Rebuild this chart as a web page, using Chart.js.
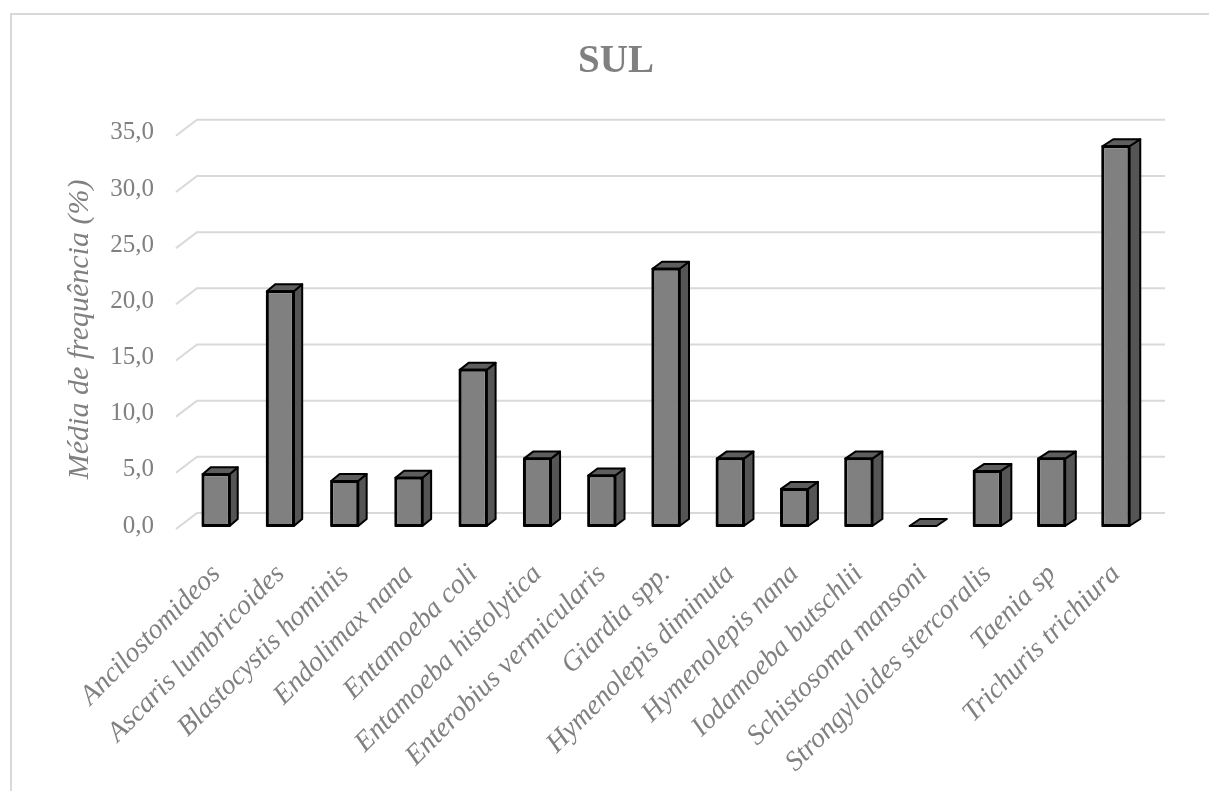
<!DOCTYPE html>
<html lang="pt">
<head>
<meta charset="utf-8">
<title>SUL</title>
<script src="https://cdn.jsdelivr.net/npm/chart.js@4.4.1/dist/chart.umd.min.js"></script>
<style>
  html, body { margin: 0; padding: 0; background: #ffffff; }
  #wrap { width: 1209px; height: 791px; position: relative; overflow: hidden; }
  canvas { display: block; }
</style>
</head>
<body>
<div id="wrap"><canvas id="grafico" width="1209" height="791"></canvas></div>
<script>
// Parasitas (eixo das categorias)
const parasitas = [
  'Ancilostomideos',
  'Ascaris lumbricoides',
  'Blastocystis hominis',
  'Endolimax nana',
  'Entamoeba coli',
  'Entamoeba histolytica',
  'Enterobius vermicularis',
  'Giardia spp.',
  'Hymenolepis diminuta',
  'Hymenolepis nana',
  'Iodamoeba butschlii',
  'Schistosoma mansoni',
  'Strongyloides stercoralis',
  'Taenia sp',
  'Trichuris trichiura'
];

// Média de frequência (%) na região Sul
const mediaFrequencia = [4.6, 20.9, 4.0, 4.3, 13.9, 6.0, 4.5, 22.9, 6.0, 3.3, 6.0, 0.0, 4.9, 6.0, 33.8];

// Eixo vertical: 0,0 a 35,0 de 5 em 5
const eixoMin = 0;
const eixoMax = 35;
const eixoPasso = 5;

const tituloGrafico = 'SUL';
const tituloEixoY = 'Média de frequência (%)';

const FONTE = '"Liberation Serif", "Times New Roman", Times, serif';
const CINZA_TEXTO = '#808080';

// Moldura clara em volta do gráfico
const moldura = {
  id: 'moldura',
  beforeDraw(chart) {
    const ctx = chart.ctx;
    ctx.save();
    ctx.fillStyle = '#ffffff';
    ctx.fillRect(0, 0, chart.width, chart.height);
    ctx.strokeStyle = '#d9d9d9';
    ctx.lineWidth = 2;
    ctx.beginPath();
    ctx.moveTo(11, chart.height + 5);
    ctx.lineTo(11, 14);
    ctx.lineTo(chart.width + 5, 14);
    ctx.stroke();
    ctx.restore();
  }
};

// Linhas de grade na parede do fundo, com o chanfro do piso à esquerda
const paredeFundo = {
  id: 'paredeFundo',
  beforeDatasetsDraw(chart) {
    const ctx = chart.ctx;
    const y = chart.scales.y;
    const area = chart.chartArea;
    ctx.save();
    ctx.strokeStyle = '#d9d9d9';
    ctx.lineWidth = 2;
    for (let v = eixoMin; v <= eixoMax; v += eixoPasso) {
      const py = y.getPixelForValue(v);
      ctx.beginPath();
      ctx.moveTo(area.left - 8, py + 3);
      ctx.lineTo(area.left + 13, py - 13);
      ctx.lineTo(area.right + 17, py - 13);
      ctx.stroke();
    }
    ctx.restore();
  }
};

// Faces lateral e superior das colunas, a partir da geometria de cada barra
const colunas3d = {
  id: 'colunas3d',
  afterDatasetsDraw(chart) {
    const ctx = chart.ctx;
    const area = chart.chartArea;
    const meta = chart.getDatasetMeta(0);
    ctx.save();
    ctx.lineJoin = 'round';
    ctx.lineWidth = 2;
    ctx.strokeStyle = '#000000';
    meta.data.forEach((bar) => {
      const p = bar.getProps(['x', 'y', 'base', 'width'], true);
      const esq = p.x - p.width / 2;
      const dir = p.x + p.width / 2;
      const topo = Math.min(p.y, p.base);
      const base = Math.max(p.y, p.base);
      const dx = 8 + 3 * (p.x - area.left) / (area.right - area.left);
      const dy = 7;

      // face lateral
      if (base - topo > 0.5) {
        ctx.beginPath();
        ctx.moveTo(dir, topo);
        ctx.lineTo(dir + dx, topo - dy);
        ctx.lineTo(dir + dx, base - dy);
        ctx.lineTo(dir, base);
        ctx.closePath();
        ctx.fillStyle = '#555555';
        ctx.fill();
        ctx.stroke();
      }

      // face superior
      ctx.beginPath();
      ctx.moveTo(esq, topo);
      ctx.lineTo(esq + dx, topo - dy);
      ctx.lineTo(dir + dx, topo - dy);
      ctx.lineTo(dir, topo);
      ctx.closePath();
      ctx.fillStyle = '#5e5e5e';
      ctx.fill();
      ctx.stroke();

      // contorno da face frontal
      if (base - topo > 0.5) {
        ctx.strokeRect(esq, topo, dir - esq, base - topo);
      }
    });
    ctx.restore();
  }
};

new Chart(document.getElementById('grafico'), {
  type: 'bar',
  data: {
    labels: parasitas,
    datasets: [{
      label: tituloEixoY,
      data: mediaFrequencia,
      backgroundColor: '#808080',
      borderColor: '#000000',
      borderWidth: 2,
      borderSkipped: false,
      barPercentage: 0.42,
      categoryPercentage: 1.0
    }]
  },
  options: {
    responsive: false,
    animation: false,
    devicePixelRatio: 1,
    layout: { padding: { left: 84, right: 61, top: 0, bottom: 0 } },
    plugins: {
      legend: { display: false },
      tooltip: { enabled: false },
      title: {
        display: true,
        text: tituloGrafico,
        color: CINZA_TEXTO,
        font: { family: FONTE, size: 39, weight: 'bold' },
        padding: { top: 39, bottom: 47 }
      }
    },
    scales: {
      x: {
        grid: { display: false, drawTicks: false },
        border: { display: false },
        ticks: {
          autoSkip: false,
          maxRotation: 45,
          minRotation: 45,
          padding: 32,
          color: CINZA_TEXTO,
          font: { family: FONTE, size: 28, style: 'italic' }
        },
        afterFit(scale) { scale.height = 265; }
      },
      y: {
        min: eixoMin,
        max: eixoMax,
        grid: { display: false, drawTicks: false },
        border: { display: false },
        ticks: {
          stepSize: eixoPasso,
          padding: 30,
          color: CINZA_TEXTO,
          font: { family: FONTE, size: 25 },
          callback: (v) => Number(v).toFixed(1).replace('.', ',')
        },
        title: {
          display: true,
          text: tituloEixoY,
          color: CINZA_TEXTO,
          font: { family: FONTE, size: 30, style: 'italic' },
          padding: { top: -22, bottom: 0 }
        },
        afterFit(scale) { scale.width = 100; }
      }
    }
  },
  plugins: [moldura, paredeFundo, colunas3d]
});
</script>
</body>
</html>
